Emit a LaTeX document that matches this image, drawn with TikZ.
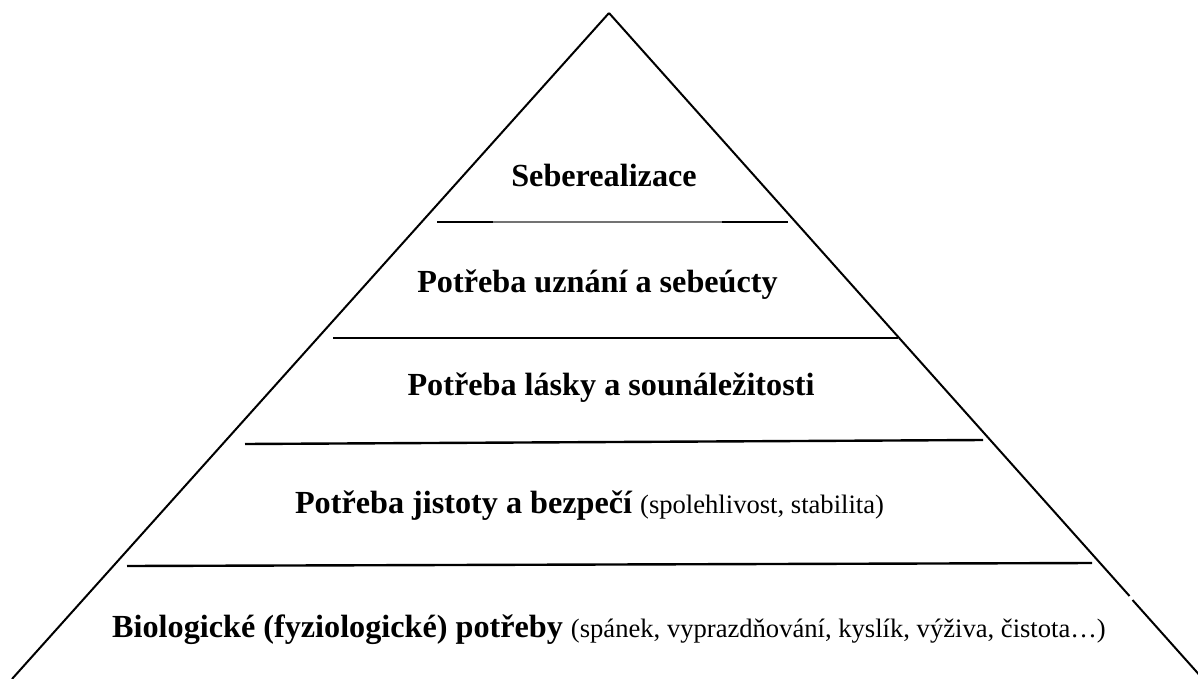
\documentclass[tikz,border=0pt]{standalone}
\usepackage{fontspec}
\setmainfont{Liberation Serif}
\newcommand{\mysubtxt}[1]{{\fontsize{26.6}{30}\selectfont\mdseries #1}}
\begin{document}
\begin{tikzpicture}[x=1pt,y=-1pt,
  side/.style={line width=2pt,black},
  tier/.style={line width=2.4pt,black},
  thintier/.style={line width=1.3pt,black!55},
  label/.style={anchor=base,inner sep=0pt,font=\fontsize{32.2}{36}\selectfont\bfseries}]
\fill[white] (0,0) rectangle (1198,679);
\useasboundingbox (0,0) rectangle (1198,679);
% pyramid corners
\coordinate (apex) at (609,13);
\coordinate (bl) at (12,679);
\coordinate (br) at (1203,679);
\coordinate (gapA) at (1129.5,596);
\coordinate (gapB) at (1132.5,600);
\draw[side] (apex) -- (bl);
\draw[side] (apex) -- (gapA);
\draw[side] (gapB) -- (br);
% tier lines
\coordinate (t1a) at (437,222); \coordinate (t1b) at (493,222);
\coordinate (t1c) at (722,222); \coordinate (t1d) at (788,222);
\draw[tier] (t1a) -- (t1b);
\draw[thintier] (t1b) -- (t1c);
\draw[tier] (t1c) -- (t1d);
\coordinate (t2a) at (333,338); \coordinate (t2b) at (898,338);
\draw[tier] (t2a) -- (t2b);
\coordinate (t3a) at (245,444); \coordinate (t3b) at (983,440);
\draw[tier] (t3a) -- (t3b);
\coordinate (t4a) at (127,566); \coordinate (t4b) at (1092,563);
\draw[tier] (t4a) -- (t4b);
% labels
\node[label] (n5) at (604,186) {Seberealizace};
\node[label] (n4) at (597.5,292) {Potřeba uznání a sebeúcty};
\node[label] (n3) at (611,395) {Potřeba lásky a sounáležitosti};
\node[label] (n2) at (589.5,513) {Potřeba jistoty a bezpečí \mysubtxt{(spolehlivost, stabilita)}};
\node[label] (n1) at (609,637) {Biologické (fyziologické) potřeby \mysubtxt{(spánek, vyprazdňování, kyslík, výživa, čistota…)}};
\end{tikzpicture}
\end{document}
